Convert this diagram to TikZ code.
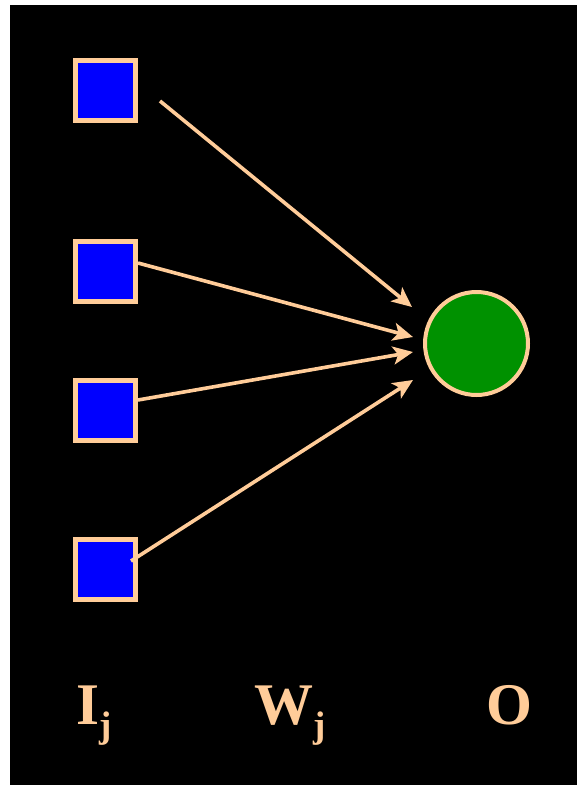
\documentclass[tikz,border=0pt]{standalone}
\usepackage{fontspec}
\setmainfont{Liberation Serif}
\usetikzlibrary{arrows.meta}
\definecolor{peach}{RGB}{255,204,153}
\definecolor{leafgreen}{RGB}{0,145,0}
\newcommand{\idx}[1]{\raisebox{-13pt}{\fontsize{37}{37}\selectfont #1}}
\begin{document}
\begin{tikzpicture}[
  x=1pt, y=-1pt,
  input/.style={rectangle, draw=peach, fill=blue, line width=5pt, minimum size=60pt, inner sep=0pt},
  output/.style={circle, draw=peach, fill=leafgreen, line width=4pt, minimum size=103pt, inner sep=0pt},
  weight/.style={draw=peach, line width=3.6pt, -{Stealth[length=20pt, width=18pt, inset=5pt]}},
  lbl/.style={anchor=base west, inner sep=0pt, text=peach, font=\fontsize{59}{60}\selectfont\bfseries}
]

\useasboundingbox (0,0) rectangle (577,785);
\fill[white] (0,0) rectangle (577,785);
\fill[black] (10,5) rectangle (577,785);

\node[input] (i1) at (105.5,90) {};
\node[input] (i2) at (105.5,271.5) {};
\node[input] (i3) at (105.5,410.5) {};
\node[input] (i4) at (105.5,569) {};

\node[output] (o) at (476.5,343.5) {};

\draw[weight] (i1.east) ++(22,11) -- ([shift={(-11,-36.5)}]o.west);
\draw[weight] (i2.east) ++(0,-8.5) -- ([shift={(-10,-6.5)}]o.west);
\draw[weight] (i3.east) ++(0,-10.5) -- ([shift={(-10,8.5)}]o.west);
\draw[weight] (i4.east) ++(-7,-8) -- ([shift={(-10,36.5)}]o.west);

\node[lbl] (li) at (76,724) {I\idx{j}};
\node[lbl] (lw) at (254,724) {W\idx{j}};
\node[lbl] (lo) at (486,724) {O};

\end{tikzpicture}
\end{document}
